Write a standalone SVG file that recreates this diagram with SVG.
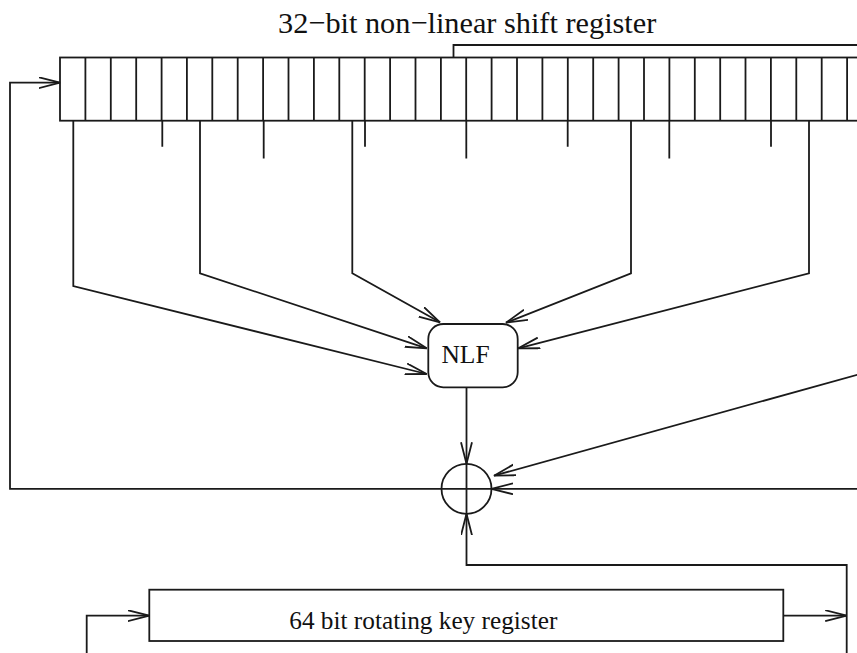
<svg xmlns="http://www.w3.org/2000/svg" width="857" height="653" viewBox="0 0 857 653">
<defs>
<style>
.ln{fill:none;stroke:#1a1a1a;stroke-width:1.8;stroke-linejoin:miter;stroke-linecap:butt}
.bx{fill:#fff;stroke:#1a1a1a;stroke-width:1.8}
.t{font-family:"Liberation Serif","Times New Roman",serif;fill:#111}
</style>
<marker id="ah" markerUnits="userSpaceOnUse" markerWidth="24" markerHeight="14" viewBox="0 0 24 14" refX="21.5" refY="6" orient="auto">
<path d="M0,0.5 L21.5,6 L0,11.5" fill="none" stroke="#1a1a1a" stroke-width="1.8"/>
</marker>
</defs>
<rect width="857" height="653" fill="#fff"/>
<g id="title">
<text class="t" x="278" y="33" font-size="30.3">32−bit non−linear shift register</text>
</g>
<g id="register">
<rect class="bx" x="60" y="57.5" width="812.5" height="63.2"/>
<path class="ln" d="M85.4,57.5V120.7M110.8,57.5V120.7M136.2,57.5V120.7M161.6,57.5V120.7M186.9,57.5V120.7M212.3,57.5V120.7M237.7,57.5V120.7M263.1,57.5V120.7M288.5,57.5V120.7M313.9,57.5V120.7M339.3,57.5V120.7M364.7,57.5V120.7M390.1,57.5V120.7M415.5,57.5V120.7M440.9,57.5V120.7M466.2,57.5V120.7M491.6,57.5V120.7M517,57.5V120.7M542.4,57.5V120.7M567.8,57.5V120.7M593.2,57.5V120.7M618.6,57.5V120.7M644,57.5V120.7M669.4,57.5V120.7M694.8,57.5V120.7M720.2,57.5V120.7M745.5,57.5V120.7M770.9,57.5V120.7M796.3,57.5V120.7M821.7,57.5V120.7M847.1,57.5V120.7"/>
<path class="ln" d="M162.3,120.7V146.7M263.7,120.7V158.5M365,120.7V146.7M466.3,120.7V158.5M567.7,120.7V146.7M669.3,120.7V158.5M771,120.7V146.7"/>
</g>
<g id="nlf">
<rect class="bx" x="428.3" y="324" width="89.4" height="63.3" rx="15" ry="15"/>
<text class="t" x="465.5" y="363.3" font-size="25.5" text-anchor="middle">NLF</text>
</g>
<g id="xor">
<circle class="bx" cx="466.5" cy="488.8" r="25"/>
<path class="ln" d="M441.5,488.8H491.5M466.5,463.8V513.8"/>
</g>
<g id="keyreg">
<rect class="bx" x="149.3" y="589.7" width="634" height="51.3"/>
<text class="t" x="289.3" y="629" font-size="25" textLength="268" lengthAdjust="spacingAndGlyphs">64 bit rotating key register</text>
</g>
<g id="connectors">
<path class="ln" d="M453.5,57.5V45H857"/>
<path class="ln" d="M73.3,120.7V286L426.7,374" marker-end="url(#ah)"/>
<path class="ln" d="M200,120.7V273.3L426.7,348.3" marker-end="url(#ah)"/>
<path class="ln" d="M352.3,120.7V273.3L440,322.3" marker-end="url(#ah)"/>
<path class="ln" d="M631,120.7V273.3L506,322.7" marker-end="url(#ah)"/>
<path class="ln" d="M809,120.7V273.3L518.3,348.3" marker-end="url(#ah)"/>
<path class="ln" d="M466.5,387.3V463.8" marker-end="url(#ah)"/>
<path class="ln" d="M860,374L494,475.7" marker-end="url(#ah)"/>
<path class="ln" d="M860,488.8H491.5" marker-end="url(#ah)"/>
<path class="ln" d="M441.5,488.8H10V82.7H60" marker-end="url(#ah)"/>
<path class="ln" d="M846.7,660V565H466.5V513.8" marker-end="url(#ah)"/>
<path class="ln" d="M783.3,615.7H846.7" marker-end="url(#ah)"/>
<path class="ln" d="M86.7,660V615.7H149.3" marker-end="url(#ah)"/>
</g>
</svg>
